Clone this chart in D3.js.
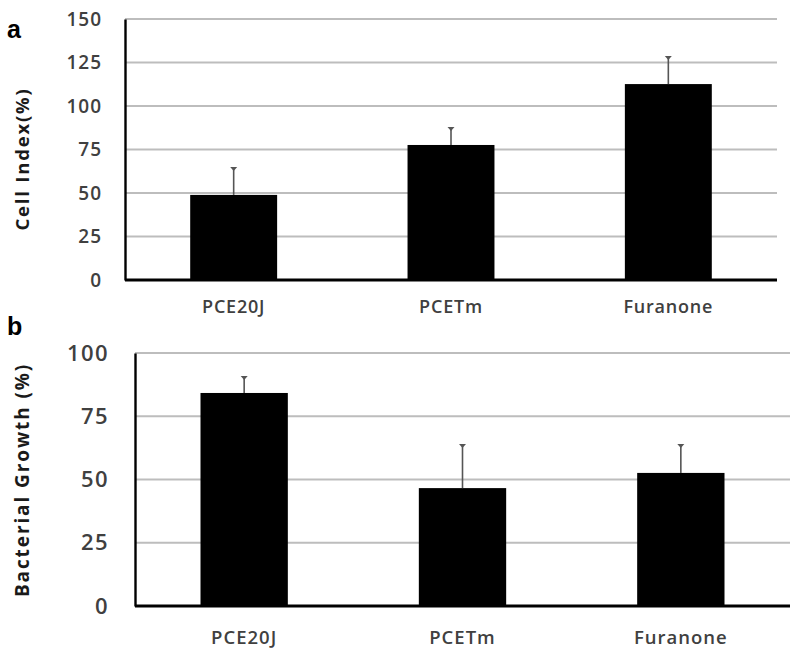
<!DOCTYPE html>
<html><head><meta charset="utf-8">
<script src="https://cdn.jsdelivr.net/npm/d3@7"></script>
<style>body{margin:0;background:#fff}svg{display:block}</style>
</head><body>
<svg id="c" width="800" height="651"></svg>
<script>
const categories = ["PCE20J", "PCETm", "Furanone"];
const cellIndex = [48.9, 77.6, 112.6];
const cellIndexErr = [15.5, 9.8, 15.5];
const cellTicks = [0, 25, 50, 75, 100, 125, 150];
const growth = [84.2, 46.6, 52.6];
const growthErr = [6.3, 17, 11];
const growthTicks = [0, 25, 50, 75, 100];

const svg = d3.select("#c");
const font = "'Open Sans', 'Liberation Sans', sans-serif";

function panel(cfg) {
  const x = d3.scaleBand().domain(categories).range([cfg.left, cfg.right]).paddingInner(0.6).paddingOuter(0.3);
  const y = d3.scaleLinear().domain([0, cfg.max]).range([cfg.bottom, cfg.top]);
  const g = svg.append("g");
  g.selectAll(".grid").data(cfg.ticks.filter(t => t > 0)).join("line")
    .attr("x1", cfg.left).attr("x2", cfg.right)
    .attr("y1", d => y(d)).attr("y2", d => y(d))
    .attr("stroke", "#bdbdbd").attr("stroke-width", 1.8);
  const ya = g.append("g").attr("transform", `translate(${cfg.left},0)`)
    .call(d3.axisLeft(y).tickValues(cfg.ticks).tickSize(0).tickPadding(cfg.tickPad));
  ya.select(".domain").attr("stroke", "#000").attr("stroke-width", 2.4);
  ya.selectAll("text").attr("font-family", font).attr("font-weight", 600)
    .attr("font-size", cfg.yfs).attr("letter-spacing", cfg.yls).attr("fill", "#404040");
  g.selectAll(".bar").data(categories).join("rect")
    .attr("x", d => x(d)).attr("width", x.bandwidth())
    .attr("y", (d, i) => y(cfg.values[i]))
    .attr("height", (d, i) => y(0) - y(cfg.values[i]))
    .attr("fill", "#000");
  g.selectAll(".err").data(categories).join("line")
    .attr("x1", d => x(d) + x.bandwidth() / 2).attr("x2", d => x(d) + x.bandwidth() / 2)
    .attr("y1", (d, i) => y(cfg.values[i])).attr("y2", (d, i) => y(cfg.values[i] + cfg.errs[i]))
    .attr("stroke", "#555").attr("stroke-width", 1.6);
  g.selectAll(".cap").data(categories).join("path")
    .attr("d", (d, i) => {
      const cx = x(d) + x.bandwidth() / 2, cy = y(cfg.values[i] + cfg.errs[i]);
      return `M${cx - 3.5},${cy - 1}H${cx + 3.5}L${cx},${cy + 3}Z`;
    })
    .attr("fill", "#555");
  const xa = g.append("g").attr("transform", `translate(0,${cfg.bottom})`)
    .call(d3.axisBottom(x).tickSize(0).tickPadding(cfg.xPad));
  xa.select(".domain").attr("stroke", "#000").attr("stroke-width", 2.8).attr("d", `M${cfg.left},0H${cfg.right}`);
  xa.selectAll("text").attr("font-family", font).attr("font-weight", 600)
    .attr("font-size", cfg.xfs).attr("letter-spacing", cfg.xls).attr("fill", "#404040");
  g.append("text").attr("transform", `translate(${cfg.titleX},${cfg.titleY}) rotate(-90)`)
    .attr("text-anchor", "middle").attr("font-family", font).attr("font-weight", "bold")
    .attr("font-size", cfg.tfs).attr("letter-spacing", cfg.tls).attr("fill", "#1a1a1a").text(cfg.title);
  g.append("text").attr("x", 7).attr("y", cfg.letterY).attr("font-family", "'Liberation Sans', Arial, sans-serif")
    .attr("font-weight", "bold").attr("font-size", 25).attr("fill", "#000").text(cfg.letter);
}

panel({left: 125, right: 777, top: 19, bottom: 280, max: 150, ticks: cellTicks,
  values: cellIndex, errs: cellIndexErr, yfs: 19, yls: 1, xfs: 18, xls: 0.8, tfs: 18.5, tls: 1.8, tickPad: 23, xPad: 20,
  title: "Cell Index(%)", titleX: 29, titleY: 159, letter: "a", letterY: 38});
panel({left: 135, right: 790, top: 353, bottom: 606, max: 100, ticks: growthTicks,
  values: growth, errs: growthErr, yfs: 22, yls: 1.4, xfs: 18.5, xls: 1, tfs: 19, tls: 1.9, tickPad: 26, xPad: 25,
  title: "Bacterial Growth (%)", titleX: 29, titleY: 480, letter: "b", letterY: 335});
</script>
</body></html>
